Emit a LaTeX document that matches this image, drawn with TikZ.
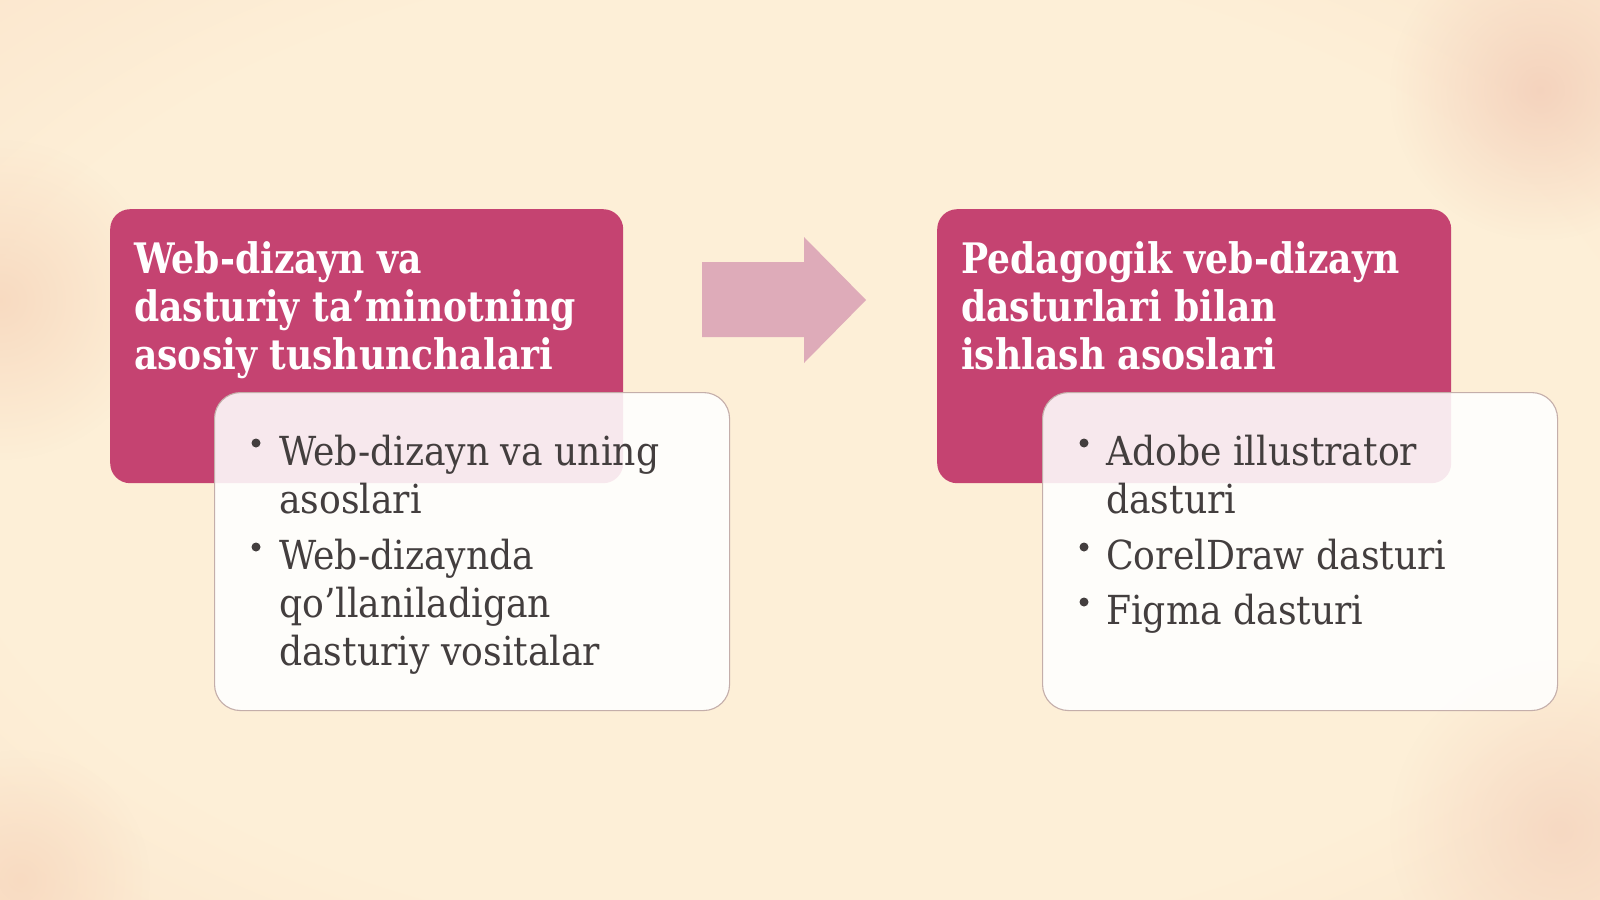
\documentclass[tikz,border=0pt]{standalone}
\usepackage{fontspec}
\setmainfont{DejaVu Serif}[FakeStretch=0.905]
\newfontfamily\headfont{DejaVu Serif}[FakeStretch=0.86]
\usetikzlibrary{fadings}
\tikzfading[name=softblot, inner color=transparent!0, outer color=transparent!100]
\definecolor{cream}{HTML}{FDEFD7}
\definecolor{peach}{HTML}{FAE0C7}
\definecolor{peachedge}{HTML}{F6D2B8}
\definecolor{blot}{HTML}{F3CDB8}
\definecolor{magenta}{HTML}{C54371}
\definecolor{arrowpink}{HTML}{DEABB9}
\definecolor{bodytext}{HTML}{433E3E}
\definecolor{boxline}{HTML}{C4AEAA}
\pgfdeclareradialshading{bgshade}{\pgfpoint{0bp}{0bp}}{color(0bp)=(cream); color(24bp)=(cream); color(40bp)=(peach); color(50bp)=(peachedge)}
\tikzset{
  pinkbox/.style={fill=magenta, rounded corners=20pt, inner sep=0pt, anchor=north west},
  whitebox/.style={fill=white, fill opacity=0.88, draw=boxline, line width=1.1pt, rounded corners=26pt, inner sep=0pt, anchor=north west},
  headline/.style={text=white, font=\headfont\fontsize{42}{48}\selectfont\bfseries, anchor=base west, inner sep=0pt},
  itemline/.style={text=bodytext, font=\fontsize{40}{48}\selectfont, anchor=base west, inner sep=0pt},
  bulletdot/.style={circle, fill=bodytext, minimum size=9pt, inner sep=0pt},
  blockarrow/.style={fill=arrowpink}
}
\begin{document}
\begin{tikzpicture}[x=1pt,y=-1pt]
\useasboundingbox (0,0) rectangle (1600,899);
\shade[shading=bgshade] (-80,-60) rectangle (1680,959);
% soft blots near the edges
\fill[blot, path fading=softblot, opacity=0.8] (1540,90) circle (150);
\fill[blot, path fading=softblot, opacity=0.6] (1560,830) circle (170);
\fill[peachedge, path fading=softblot, opacity=0.7] (0,300) circle (160);
\fill[peachedge, path fading=softblot, opacity=0.6] (20,880) circle (130);

% left group
\node[pinkbox, minimum width=513pt, minimum height=274pt] (h1) at (110,209) {};
\node[whitebox, minimum width=515pt, minimum height=318pt] (b1) at (214,392) {};
\node[headline] (h1a) at (134,273) {Web-dizayn va};
\node[headline] (h1b) at (134,321) {dasturiy ta’minotning};
\node[headline] (h1c) at (134,369) {asosiy tushunchalari};
\node[bulletdot] (d1a) at (256,443) {};
\node[itemline] (i1a) at (279,465) {Web-dizayn va uning};
\node[itemline] (i1b) at (279,513) {asoslari};
\node[bulletdot] (d1b) at (256,547) {};
\node[itemline] (i1c) at (279,569) {Web-dizaynda};
\node[itemline] (i1d) at (279,617) {qo’llaniladigan};
\node[itemline] (i1e) at (279,665) {dasturiy vositalar};

% arrow
\coordinate (a1) at (702,262);
\coordinate (a2) at (804,262);
\coordinate (a3) at (804,237);
\coordinate (a4) at (866,300);
\coordinate (a5) at (804,363);
\coordinate (a6) at (804,337);
\coordinate (a7) at (702,337);
\fill[blockarrow] (a1) -- (a2) -- (a3) -- (a4) -- (a5) -- (a6) -- (a7) -- cycle;

% right group
\node[pinkbox, minimum width=514pt, minimum height=274pt] (h2) at (937,209) {};
\node[whitebox, minimum width=515pt, minimum height=318pt] (b2) at (1042,392) {};
\node[headline] (h2a) at (961,273) {Pedagogik veb-dizayn};
\node[headline] (h2b) at (961,321) {dasturlari bilan};
\node[headline] (h2c) at (961,369) {ishlash asoslari};
\node[bulletdot] (d2a) at (1084,443) {};
\node[itemline] (i2a) at (1106,465) {Adobe illustrator};
\node[itemline] (i2b) at (1106,513) {dasturi};
\node[bulletdot] (d2b) at (1084,547) {};
\node[itemline] (i2c) at (1106,569) {CorelDraw dasturi};
\node[bulletdot] (d2c) at (1084,602) {};
\node[itemline] (i2d) at (1106,624) {Figma dasturi};
\end{tikzpicture}
\end{document}
